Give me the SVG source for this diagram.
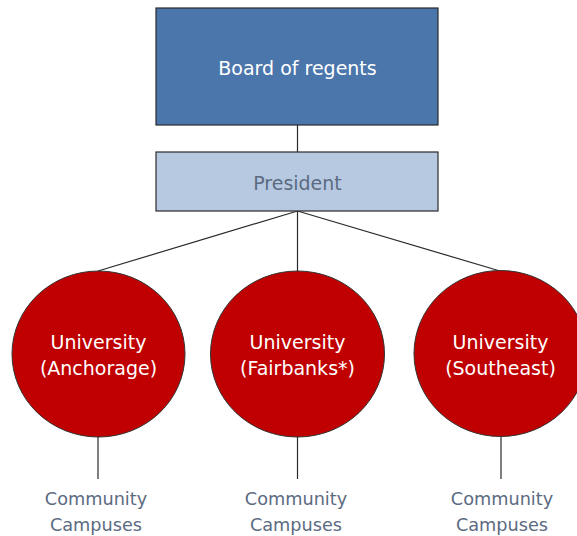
<svg xmlns="http://www.w3.org/2000/svg" width="577" height="536" viewBox="0 0 577 536">
<style>
text{font-family:"DejaVu Sans",Verdana,sans-serif;text-anchor:middle}
.w{fill:#ffffff;font-size:19px}
.g{fill:#5b6b82;font-size:19px}
.c{fill:#5b6b82;font-size:17.7px}
.ln{stroke:#2a2a2a;stroke-width:1.2;fill:none}
.u{fill:#c00000;stroke:#333333;stroke-width:1}
</style>
<rect width="577" height="536" fill="#ffffff"/>
<g id="connectors">
<line class="ln" x1="297.5" y1="125" x2="297.5" y2="152"/>
<line class="ln" x1="297.5" y1="211" x2="98" y2="271"/>
<line class="ln" x1="297.5" y1="211" x2="297.5" y2="271"/>
<line class="ln" x1="297.5" y1="211" x2="500" y2="271"/>
<line class="ln" x1="98" y1="437" x2="98" y2="479"/>
<line class="ln" x1="297.5" y1="437" x2="297.5" y2="479"/>
<line class="ln" x1="501" y1="437" x2="501" y2="479"/>
</g>
<g id="board">
<rect x="156" y="8" width="282" height="117" fill="#4a76ac" stroke="#2a2a2a" stroke-width="1.2"/>
<text class="w" x="297.5" y="75">Board of regents</text>
</g>
<g id="president">
<rect x="156" y="152" width="282" height="59" fill="#b7c9e1" stroke="#2a2a2a" stroke-width="1.2"/>
<text class="g" x="297.5" y="190">President</text>
</g>
<g id="anchorage">
<ellipse class="u" cx="98.5" cy="354" rx="86.5" ry="83"/>
<text class="w" x="98.5" y="349">University</text>
<text class="w" x="98.5" y="375">(Anchorage)</text>
</g>
<g id="fairbanks">
<ellipse class="u" cx="297.5" cy="354" rx="87" ry="83"/>
<text class="w" x="297.5" y="349">University</text>
<text class="w" x="297.5" y="375">(Fairbanks*)</text>
</g>
<g id="southeast">
<ellipse class="u" cx="500.5" cy="353.5" rx="86.5" ry="83"/>
<text class="w" x="500.5" y="349">University</text>
<text class="w" x="500.5" y="375">(Southeast)</text>
</g>
<g id="cc1">
<text class="c" x="96" y="505">Community</text>
<text class="c" x="96" y="531">Campuses</text>
</g>
<g id="cc2">
<text class="c" x="296" y="505">Community</text>
<text class="c" x="296" y="531">Campuses</text>
</g>
<g id="cc3">
<text class="c" x="502" y="505">Community</text>
<text class="c" x="502" y="531">Campuses</text>
</g>
</svg>
